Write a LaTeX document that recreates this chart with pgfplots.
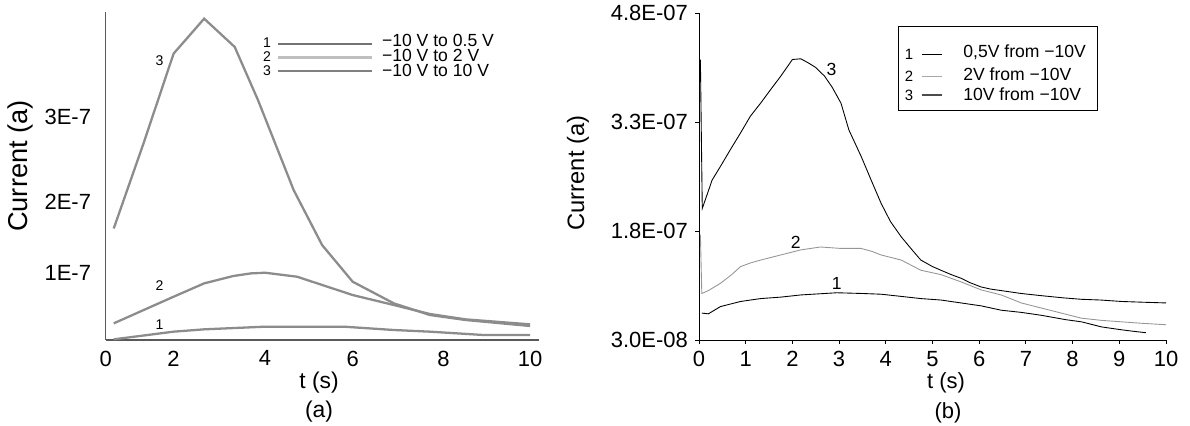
\documentclass[border=0pt]{standalone}
\usepackage{fontspec}
\setmainfont{Liberation Sans}
\usepackage{pgfplots}
\pgfplotsset{compat=1.18}
\definecolor{curvegray}{RGB}{140,140,140}
\definecolor{lightgray2}{RGB}{150,150,150}
\newcommand{\tickfont}{\fontsize{12.5}{15}\selectfont}
\begin{document}
\begin{tikzpicture}[x=1cm,y=1cm]
\path[use as bounding box] (0,0) rectangle (23.8,8.52);

% (a) digitised curves, y in plot units (1 unit = 1E-7 tick)
\begin{axis}[
  at={(2.114cm,1.72cm)}, anchor=south west, scale only axis,
  width=8.666cm, height=6.56cm,
  xmin=0, xmax=10.21, ymin=0, ymax=4.925,
  axis x line=bottom, axis y line=left,
  axis line style={-, draw=black!65, line width=0.9pt},
  major tick length=0,
  xtick={0,1.6,3.755,5.82,7.96,10}, xticklabels={0,2,4,6,8,10},
  ytick={1,2.075,3.35}, yticklabels={1E-7,2E-7,3E-7},
  tick label style={font=\tickfont},
  xticklabel style={yshift=-0.09cm},
  yticklabel style={xshift=-0.17cm},
  clip=false,
]
\addplot[curvegray, line width=1.3pt] coordinates {
  (0.19,1.675)(0.89,2.95)(1.6,4.3)(2.32,4.825)(3.04,4.4)(3.59,3.6)
  (4.43,2.25)(5.1,1.425)(5.82,0.875)(6.79,0.55)(7.64,0.375)(8.48,0.30)(10,0.21)
};
\addplot[curvegray, line width=1.3pt] coordinates {
  (0.19,0.25)(1.6,0.65)(2.32,0.85)(3.0,0.96)(3.42,1.0)(3.76,1.01)(4.51,0.95)
  (5.82,0.675)(6.79,0.525)(7.64,0.39)(8.48,0.31)(10,0.235)
};
\addplot[curvegray, line width=1.3pt] coordinates {
  (0.19,0.01)(1.6,0.125)(2.32,0.16)(3.76,0.2)(5.61,0.2)(6.79,0.15)
  (7.64,0.125)(8.9,0.075)(10,0.075)
};
\node[font=\fontsize{8}{9}\selectfont] at (axis cs:1.27,4.2) {3};
\node[font=\fontsize{8}{9}\selectfont] at (axis cs:1.27,0.81) {2};
\node[font=\fontsize{8}{9}\selectfont] at (axis cs:1.27,0.225) {1};
\end{axis}

% (b)
\begin{axis}[
  at={(13.98cm,1.72cm)}, anchor=south west, scale only axis,
  width=9.34cm, height=6.54cm,
  xmin=0, xmax=10, ymin=0.3, ymax=4.8,
  axis x line=bottom, axis y line=left,
  axis line style={-, line width=0.5pt},
  tick align=outside, major tick length=0.08cm,
  tick style={line width=0.5pt, black},
  xtick={0,1,...,10},
  ytick={0.3,1.8,3.3,4.8},
  yticklabels={3.0E-08,1.8E-07,3.3E-07,4.8E-07},
  tick label style={font=\tickfont},
  /pgf/number format/assume math mode=true,
  xticklabel style={yshift=-0.02cm},
  yticklabel style={xshift=-0.02cm},
  clip=false,
]
\addplot[black, line width=0.5pt] coordinates {
  (0.03,4.16)(0.07,2.11)(0.2,2.35)(0.28,2.5)(0.46,2.69)(0.7,2.95)(0.89,3.15)(1.1,3.38)
  (1.32,3.56)(1.55,3.76)(1.75,3.93)(2.0,4.16)(2.18,4.17)(2.35,4.11)(2.5,4.05)
  (2.69,3.93)(2.85,3.78)(3.04,3.56)(3.21,3.19)(3.47,2.83)(3.7,2.48)(3.9,2.18)
  (4.1,1.93)(4.33,1.72)(4.55,1.55)(4.75,1.40)(5.0,1.31)(5.18,1.26)(5.4,1.20)
  (5.61,1.15)(5.8,1.09)(6.04,1.03)(6.25,1.00)(6.47,0.98)(6.9,0.94)(7.33,0.91)
  (7.8,0.88)(8.19,0.86)(8.6,0.85)(9.05,0.83)(9.5,0.82)(10,0.81)
};
\addplot[lightgray2, line width=0.5pt] coordinates {
  (0.03,1.75)(0.06,0.94)(0.2,0.98)(0.46,1.08)(0.7,1.2)(0.89,1.31)(1.1,1.36)
  (1.32,1.40)(1.75,1.47)(2.18,1.54)(2.6,1.58)(3.04,1.56)(3.47,1.56)(3.7,1.52)
  (3.9,1.47)(4.33,1.40)(4.75,1.26)(5.18,1.20)(5.61,1.10)(6.04,0.99)(6.47,0.92)
  (6.9,0.81)(7.33,0.74)(7.76,0.67)(8.19,0.60)(8.62,0.57)(9.05,0.55)(9.48,0.53)(10,0.51)
};
\addplot[black, line width=0.5pt] coordinates {
  (0.06,0.67)(0.2,0.66)(0.46,0.76)(0.89,0.83)(1.32,0.87)(1.75,0.89)(2.18,0.92)
  (2.95,0.95)(3.5,0.94)(3.9,0.93)(4.33,0.90)(4.75,0.87)(5.18,0.85)(5.61,0.81)
  (6.04,0.77)(6.47,0.71)(6.9,0.68)(7.33,0.64)(7.85,0.58)(8.19,0.55)(8.62,0.48)
  (9.05,0.44)(9.3,0.42)(9.57,0.40)
};
\node[font=\fontsize{10}{11}\selectfont] at (axis cs:2.84,4.02) {3};
\node[font=\fontsize{10}{11}\selectfont] at (axis cs:2.07,1.65) {2};
\node[font=\fontsize{10}{11}\selectfont] at (axis cs:2.95,1.08) {1};
\end{axis}

% axis titles
\node[rotate=90, font=\fontsize{15.5}{17}\selectfont] at (0.4,5.2) {Current (a)};
\node[font=\fontsize{13}{15}\selectfont] at (6.38,0.86) {t (s)};
\node[font=\fontsize{13}{15}\selectfont] at (6.38,0.28) {(a)};
\node[rotate=90, font=\fontsize{13.5}{15}\selectfont] at (11.56,5.06) {Current (a)};
\node[font=\fontsize{12.5}{15}\selectfont] at (18.92,0.86) {t (s)};
\node[font=\fontsize{12.5}{15}\selectfont] at (18.96,0.26) {(b)};

% legend (a)
\draw[black!55, line width=1.5pt] (5.56,7.64) -- (7.44,7.64);
\draw[black!25, line width=1.5pt] (5.56,7.374) -- (7.44,7.374);
\draw[black!50, line width=1.5pt] (5.56,7.10) -- (7.44,7.10);
\begin{scope}[every node/.style={font=\fontsize{8}{8}\selectfont, inner sep=0}]
\node at (5.34,7.66) {1};
\node at (5.34,7.384) {2};
\node at (5.34,7.11) {3};
\end{scope}
\begin{scope}[every node/.style={font=\fontsize{10}{12}\selectfont, anchor=west, inner sep=0}]
\node at (7.634,7.72) {−10 V to 0.5 V};
\node at (7.634,7.406) {−10 V to 2 V};
\node at (7.634,7.106) {−10 V to 10 V};
\end{scope}

% legend (b)
\draw[line width=0.5pt] (17.96,6.32) rectangle (21.94,8.0);
\draw[black, line width=0.5pt] (18.44,7.44) -- (18.84,7.44);
\draw[black!35, line width=0.5pt] (18.44,7.0) -- (18.84,7.0);
\draw[black!70, line width=0.8pt] (18.44,6.62) -- (18.84,6.62);
\begin{scope}[every node/.style={font=\fontsize{8.5}{9}\selectfont, inner sep=0}]
\node at (18.18,7.44) {1};
\node at (18.18,7.0) {2};
\node at (18.18,6.62) {3};
\end{scope}
\begin{scope}[every node/.style={font=\fontsize{10}{12}\selectfont, anchor=west, inner sep=0}]
\node at (19.26,7.48) {0,5V from −10V};
\node at (19.26,7.04) {2V from −10V};
\node at (19.26,6.64) {10V from −10V};
\end{scope}
\end{tikzpicture}
\end{document}
